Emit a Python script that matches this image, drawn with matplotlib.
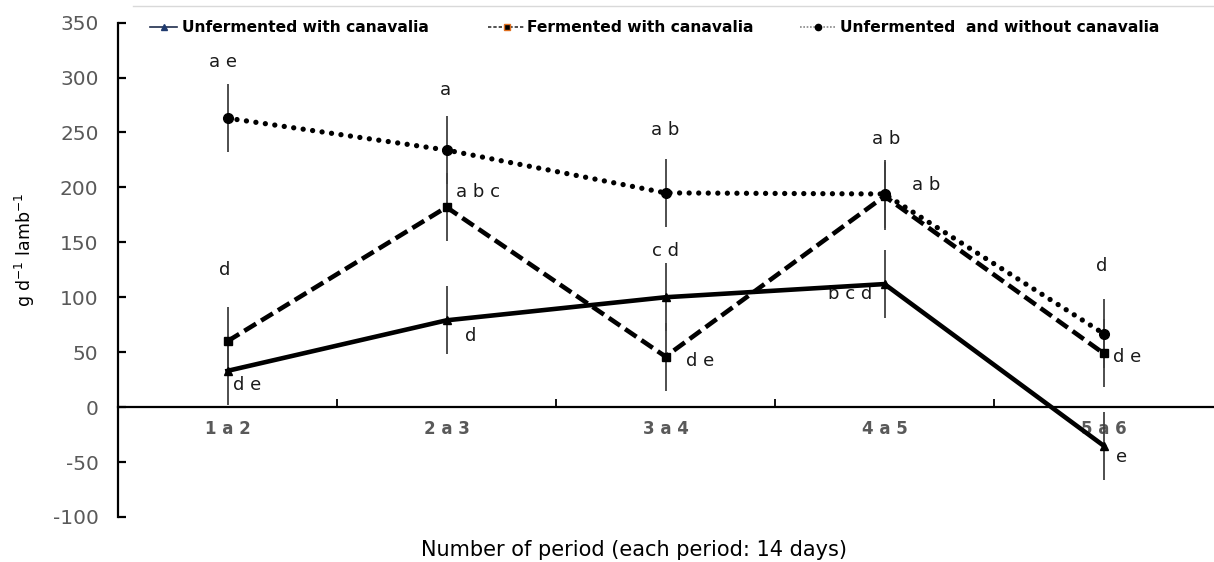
import matplotlib
matplotlib.use('Agg')
import matplotlib.pyplot as plt
from matplotlib.lines import Line2D
import numpy as np

plt.rcParams['font.family'] = ['DejaVu Sans']
plt.rcParams['axes.unicode_minus'] = False

# 資料
periods = ['1 a 2', '2 a 3', '3 a 4', '4 a 5', '5 a 6']
unfermented_with = [33, 79, 100, 112, -35]
fermented_with = [60, 182, 46, 192, 49]
unfermented_without = [263, 234, 195, 194, 67]
err_unfermented_with = [31, 31, 31, 31, 31]
err_fermented_with = [31, 31, 31, 31, 31]
err_unfermented_without = [31, 31, 31, 31, 31]

series_names = ['Unfermented with canavalia',
                'Fermented with canavalia',
                'Unfermented  and without canavalia']

# 顯著性字母
letter_text = ['a e', 'd', 'd e', 'a', 'a b c', 'd', 'a b', 'c d', 'd e',
               'a b', 'a b', 'b c d', 'd', 'd e', 'e']
letter_period = [0, 0, 0, 1, 1, 1, 2, 2, 2, 3, 3, 3, 4, 4, 4]
letter_y = [314, 125, 20, 289, 196, 65, 252, 142, 42, 244, 202, 103, 128, 46, -45]

# 字母位置樣式 (offset in points, alignment)
letter_dx = [-3.5, -2, 4, -1, 7, 13, 0, 0, 15, 1, 20, -9, -1, 7, 9]
letter_ha = ['center', 'center', 'left', 'center', 'left', 'left', 'center',
             'center', 'left', 'center', 'left', 'right', 'center', 'left', 'left']

W, H = 1214, 562
fig = plt.figure(figsize=(W / 100, H / 100), dpi=100)
ax = fig.add_axes([118 / W, 0.0801, 1095 / W, 0.8797])

x = np.arange(len(periods))

# 誤差線
for vals, errs in [(unfermented_with, err_unfermented_with),
                   (fermented_with, err_fermented_with),
                   (unfermented_without, err_unfermented_without)]:
    ax.errorbar(x, vals, yerr=errs, fmt='none', ecolor='#404040',
                elinewidth=1.3, capsize=0, zorder=2)

ax.plot(x, unfermented_with, color='black', lw=3.3, linestyle='-',
        marker='^', markersize=6, zorder=4)
ax.plot(x, fermented_with, color='black', lw=3.3, linestyle=(0, (3.0, 1.3)),
        marker='s', markersize=6, zorder=4)
ax.plot(x, unfermented_without, color='black', lw=3.8,
        linestyle=(0, (0.01, 1.8)), dash_capstyle='round',
        marker='o', markersize=7, zorder=4)

for txt, p, yv, dx, ha in zip(letter_text, letter_period, letter_y,
                              letter_dx, letter_ha):
    ax.annotate(txt, xy=(p, yv), xytext=(dx, 0), textcoords='offset points',
                ha=ha, va='center', fontsize=13, color='#1a1a1a')

ax.set_xlim(-0.5, 4.5)
ax.set_ylim(-100, 350)
ax.set_yticks(np.arange(-100, 351, 50))
ax.set_xticks(x)
ax.set_xticklabels(periods)
ax.set_xticks(np.arange(0.5, 4, 1), minor=True)

ax.spines['top'].set_visible(False)
ax.spines['right'].set_visible(False)
ax.spines['bottom'].set_position(('data', 0))
ax.spines['bottom'].set_linewidth(1.6)
ax.spines['left'].set_linewidth(1.6)

ax.tick_params(axis='y', direction='in', length=6, width=1.6,
               labelsize=14.5, labelcolor='#595959', pad=14)
ax.tick_params(axis='x', which='major', length=0, pad=9,
               labelsize=12, labelcolor='#595959')
ax.tick_params(axis='x', which='minor', direction='in', length=6, width=1.3)
for lab in ax.get_xticklabels():
    lab.set_fontweight('bold')

fig.text(25 / W, 1 - 250 / H,
         'g d$^{\\mathregular{-1}}$ lamb$^{\\mathregular{-1}}$',
         rotation=90, ha='center', va='center', fontsize=12.5)
fig.text(634 / W, 1 - 550 / H, 'Number of period (each period: 14 days)',
         ha='center', va='center', fontsize=15)

# 圖例 (手動排列)
legend_handles = [
    dict(color='#1f2d4d', ls='-', marker='^', mfc='#1f3a6e', mec='#1f3a6e'),
    dict(color='#333333', ls=(0, (2, 1.2)), marker='s', mfc='black', mec='#e07020'),
    dict(color='#888888', ls=(0, (1, 1)), marker='o', mfc='black', mec='black'),
]
legend_x = [(150, 177, 182), (488, 525, 527), (800, 836, 840)]
ly = 1 - 27 / H
for name, hd, (x0, x1, xt) in zip(series_names, legend_handles, legend_x):
    fig.add_artist(Line2D([x0 / W, x1 / W], [ly, ly], transform=fig.transFigure,
                          color=hd['color'], lw=1.2, linestyle=hd['ls']))
    fig.add_artist(Line2D([(x0 + x1) / 2 / W], [ly], transform=fig.transFigure,
                          marker=hd['marker'], markersize=4.5,
                          markerfacecolor=hd['mfc'], markeredgecolor=hd['mec'],
                          linestyle='none'))
    fig.text(xt / W, ly, name, ha='left', va='center', fontsize=11.2,
             fontweight='bold')

fig.add_artist(Line2D([133 / W, 1.0], [1 - 6 / H, 1 - 6 / H],
                      transform=fig.transFigure, color='#d9d9d9', lw=1))

fig.savefig('out.png', dpi=100)
